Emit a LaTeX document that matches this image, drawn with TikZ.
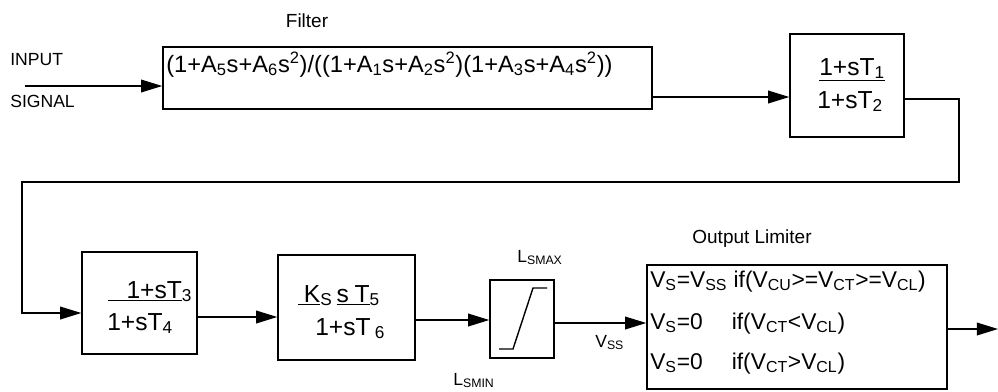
\documentclass[tikz,border=0pt]{standalone}
\usepackage{fontspec}
\setmainfont{Liberation Sans}
\usetikzlibrary{arrows.meta}

\newcommand{\sbs}[1]{\textsubscript{#1}}
\newcommand{\sps}[1]{\textsuperscript{#1}}

\tikzset{
	blk/.style={draw, line width=1pt, inner sep=0pt},
	sig/.style={line width=1pt, -{Triangle[length=15pt,width=9pt]}},
	lbl/.style={inner sep=0pt, font=\fontsize{12.5}{14}\selectfont},
	ttl/.style={inner sep=0pt, font=\fontsize{13.5}{16}\selectfont},
	frm/.style={inner sep=0pt, font=\fontsize{17.5}{20}\selectfont},
	lim/.style={inner sep=0pt, font=\fontsize{16.2}{19}\selectfont},
}

\begin{document}
\begin{tikzpicture}[x=0.025cm, y=-0.025cm]
	\useasboundingbox (0,0) rectangle (998,391);

	% blocks
	\node[blk, minimum width=12.225cm, minimum height=1.55cm] (filt) at (407.5,78) {};
	\node[blk, minimum width=2.85cm, minimum height=2.575cm] (lead1) at (847,85.5) {};
	\node[blk, minimum width=2.875cm, minimum height=2.55cm] (lead2) at (139.5,303) {};
	\node[blk, minimum width=3.425cm, minimum height=2.625cm] (wash) at (346.5,307.5) {};
	\node[blk, minimum width=1.6cm, minimum height=1.95cm] (sat) at (522,319) {};
	\node[blk, minimum width=7.5cm, minimum height=3.1cm] (outlim) at (797,327) {};

	% labels
	\node[lbl, anchor=base west] (inlbl) at (10,65) {INPUT};
	\node[lbl, anchor=base west] (siglbl) at (10,107) {SIGNAL};
	\node[ttl, anchor=base] (filtlbl) at (307,27) {Filter};
	\node[ttl, anchor=base] (outlbl) at (752,243) {Output Limiter};
	\node[lbl, anchor=base west] (lmax) at (517,262) {L\sbs{SMAX}};
	\node[lbl, anchor=base west] (lmin) at (453,385) {L\sbs{SMIN}};
	\node[lbl, anchor=base west] (vss) at (595,347) {V\sbs{SS}};

	% texts in the blocks
	\node[frm, font=\fontsize{16.8}{20}\selectfont, anchor=base west] (filtxt) at (166,72)
		{(1+A\sbs{5}s+A\sbs{6}s\sps{2})/((1+A\sbs{1}s+A\sbs{2}s\sps{2})(1+A\sbs{3}s+A\sbs{4}s\sps{2}))};
	\node[frm, anchor=base west] (num1) at (819,75) {\underline{1+sT\sbs{1}}};
	\node[frm, anchor=base west] (den1) at (817,108) {1+sT\sbs{2}};
	\node[frm, anchor=base west] (num2) at (108,298) {\underline{\hspace{13pt}1+sT}\sbs{3}};
	\node[frm, anchor=base west] (den2) at (107,330) {1+sT\sbs{4}};
	\node[frm, anchor=base west] (num3) at (298,302)
		{\underline{\hspace{4pt}K}\sbs{S}\hspace{3pt}\underline{s\hspace{4pt}T}\sbs{5}};
	\node[frm, anchor=base west] (den3) at (315,335) {1+sT\hspace{3pt}\sbs{6}};
	\node[lim, anchor=base west] (ol1) at (650,287)
		{V\sbs{S}=V\sbs{SS} if(V\sbs{CU}>=V\sbs{CT}>=V\sbs{CL})};
	\node[lim, anchor=base west] (ol2) at (650,329)
		{\makebox[58pt][l]{V\sbs{S}=0}if(V\sbs{CT}<V\sbs{CL})};
	\node[lim, anchor=base west] (ol3) at (650,369)
		{\makebox[58pt][l]{V\sbs{S}=0}if(V\sbs{CT}>V\sbs{CL})};

	% limiter curve
	\draw[line width=1pt, shift={(sat.center)}] (-23,30) -- (-9,30) -- (11,-31) -- (25,-31);

	% connections
	\coordinate (inp) at (25,86);
	\coordinate (fb1) at (959,182);
	\coordinate (fb2) at (22,313);
	\coordinate (out) at (998,329);
	\draw[sig] (inp) -- (inp -| filt.west);
	\draw[sig] (filt.east |- 0,97) -- (lead1.west |- 0,97);
	\draw[sig] (lead1.east |- 0,99) -| (fb1) -| (fb2) -- (fb2 -| lead2.west);
	\draw[sig] (lead2.east |- 0,317) -- (wash.west |- 0,317);
	\draw[sig] (wash.east |- 0,320) -- (sat.west |- 0,320);
	\draw[sig] (sat.east |- 0,323) -- (outlim.west |- 0,323);
	\draw[sig] (outlim.east |- out) -- (out);
\end{tikzpicture}
\end{document}
